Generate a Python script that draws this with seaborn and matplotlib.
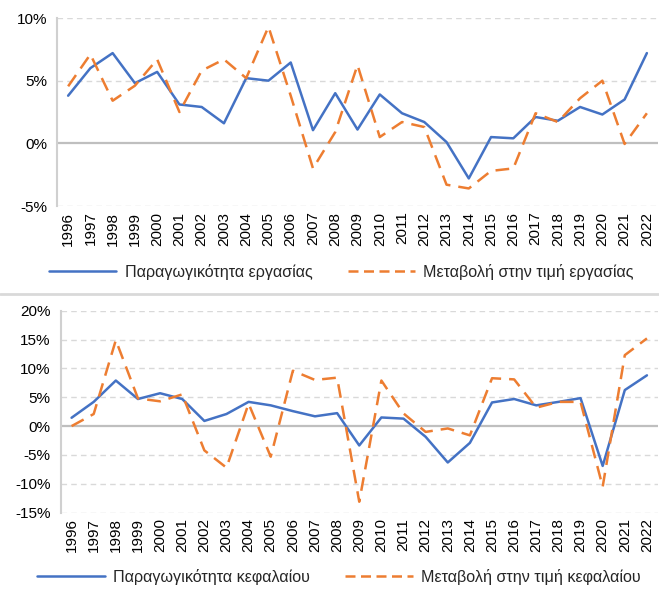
import pandas as pd
import matplotlib.pyplot as plt
import seaborn as sns
from matplotlib.lines import Line2D

years = list(range(1996, 2023))

# labour: productivity vs change in labour price (%)
labour_prod = [3.8, 6.0, 7.2, 4.8, 5.7, 3.1, 2.9, 1.6, 5.2, 5.0, 6.45, 1.05, 4.0, 1.1,
               3.9, 2.4, 1.7, 0.1, -2.8, 0.5, 0.4, 2.1, 1.8, 2.9, 2.3, 3.5, 7.2]
labour_price = [4.55, 7.1, 3.4, 4.6, 6.7, 2.5, 5.8, 6.7, 5.2, 9.3, 3.8, -2.0, 0.9, 6.25,
                0.5, 1.7, 1.3, -3.3, -3.6, -2.2, -2.0, 2.4, 1.7, 3.6, 5.0, -0.05, 2.4]

# capital: productivity vs change in capital price (%)
capital_prod = [1.45, 4.2, 7.9, 4.7, 5.7, 4.7, 0.9, 2.1, 4.2, 3.6, 2.6, 1.7, 2.25, -3.35,
                1.5, 1.3, -1.85, -6.3, -2.9, 4.1, 4.7, 3.6, 4.2, 4.85, -6.9, 6.25, 8.8]
capital_price = [0.0, 2.1, 14.9, 4.8, 4.3, 5.5, -4.2, -7.2, 3.9, -5.3, 9.6, 8.0, 8.4, -13.1,
                 7.9, 2.2, -1.0, -0.4, -1.6, 8.3, 8.1, 3.2, 4.2, 4.2, -10.5, 12.3, 15.2]

labels_top = ['Παραγωγικότητα εργασίας', 'Μεταβολή στην τιμή εργασίας']
labels_bot = ['Παραγωγικότητα κεφαλαίου', 'Μεταβολή στην τιμή κεφαλαίου']

BLUE = '#4472C4'
ORANGE = '#ED7D31'
DASH = (0, (5.5, 3.2))

sns.set_style('white')
plt.rcParams['font.family'] = ['Liberation Sans', 'DejaVu Sans']
plt.rcParams['font.size'] = 11

fig = plt.figure(figsize=(6.59, 5.89), dpi=100)
ax1 = fig.add_axes([57 / 659, 1 - 206 / 589, (658 - 57) / 659, (206 - 18) / 589])
ax2 = fig.add_axes([60.5 / 659, 1 - 512.7 / 589, (658 - 60.5) / 659, (512.7 - 310.7) / 589])


def draw(ax, prod, price, ylim, yticks):
    df = pd.DataFrame({'year': years, 'prod': prod, 'price': price})
    for v in yticks:
        if v == 0:
            ax.axhline(0, color='#BFBFBF', lw=1.6, zorder=1)
        else:
            ax.axhline(v, color='#D9D9D9', lw=1.0, ls=(0, (4, 3)), zorder=1)
    sns.lineplot(data=df, x='year', y='prod', ax=ax, color=BLUE, lw=1.8, zorder=3)
    sns.lineplot(data=df, x='year', y='price', ax=ax, color=ORANGE, lw=1.8,
                 linestyle=DASH, zorder=3)
    ax.set_xlim(1995.5, 2022.5)
    ax.set_ylim(*ylim)
    ax.set_yticks(yticks)
    ax.set_yticklabels([f'{v}%' for v in yticks])
    ax.set_xticks(years)
    ax.set_xticklabels([str(y) for y in years], rotation=90)
    ax.tick_params(axis='both', length=0, labelsize=11, colors='#000000')
    ax.tick_params(axis='y', pad=7)
    ax.tick_params(axis='x', pad=4)
    ax.set_xlabel('')
    ax.set_ylabel('')
    for s in ['top', 'right', 'bottom']:
        ax.spines[s].set_visible(False)
    ax.spines['left'].set_color('#D0D0D0')
    ax.spines['left'].set_linewidth(1.5)
    ax.set_facecolor('none')


draw(ax1, labour_prod, labour_price, (-5, 10), [-5, 0, 5, 10])
draw(ax2, capital_prod, capital_price, (-15, 20), [-15, -10, -5, 0, 5, 10, 15, 20])

# separator between the two panels
fig.add_artist(Line2D([0, 1], [1 - 294 / 589, 1 - 294 / 589], color='#D9D9D9', lw=2))


def legend(labels, y, x):
    handles = [Line2D([], [], color=BLUE, lw=1.8),
               Line2D([], [], color=ORANGE, lw=1.8, linestyle=(0, (4, 2.2)))]
    fig.legend(handles, labels, loc='center', bbox_to_anchor=(x, y), ncol=2,
               frameon=False, fontsize=11.6, handlelength=4.2, handletextpad=0.5,
               columnspacing=2.2)


legend(labels_top, 1 - 272 / 589, 0.518)
legend(labels_bot, 1 - 577 / 589, 0.514)

fig.savefig('out.png', dpi=100)
